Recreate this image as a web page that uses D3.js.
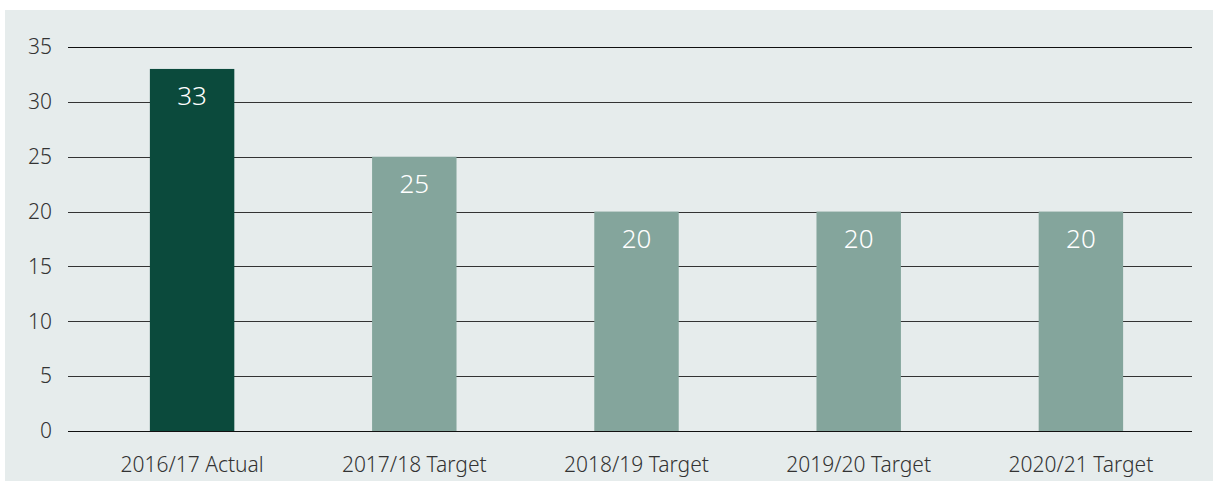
<!DOCTYPE html>
<html>
<head>
<meta charset="utf-8">
<script src="https://cdn.jsdelivr.net/npm/d3@7.9.0/dist/d3.min.js"></script>
<style>
  body { margin: 0; background: #fff; }
  svg { display: block; font-family: 'Noto Sans', sans-serif; }
</style>
</head>
<body>
<svg id="chart" width="1213" height="483"></svg>
<script>
// data
const categories = ['2016/17 Actual', '2017/18 Target', '2018/19 Target', '2019/20 Target', '2020/21 Target'];
const values = [33, 25, 20, 20, 20];
const yTicks = [0, 5, 10, 15, 20, 25, 30, 35];

const svg = d3.select('#chart');

svg.append('rect')
  .attr('x', 5).attr('y', 10)
  .attr('width', 1208).attr('height', 471)
  .attr('fill', '#e6ecec');

const x = d3.scaleBand().domain(categories).range([81, 1192]).paddingInner(0.62).paddingOuter(0.31);
const y = d3.scaleLinear().domain([0, 35]).range([431, 47]);

// gridlines
svg.append('g')
  .selectAll('line')
  .data(yTicks)
  .join('line')
  .attr('x1', 68).attr('x2', 1192)
  .attr('y1', (d) => Math.round(y(d)) + 0.5)
  .attr('y2', (d) => Math.round(y(d)) + 0.5)
  .attr('stroke', (d) => (d === 0 || d === 35 ? '#111' : '#333'))
  .attr('stroke-width', 1.2);

// y tick labels
svg.append('g')
  .selectAll('text')
  .data(yTicks)
  .join('text')
  .attr('x', 52)
  .attr('y', (d) => y(d))
  .attr('dy', '0.35em')
  .attr('text-anchor', 'end')
  .attr('font-size', 21)
  .attr('font-weight', 300)
  .attr('fill', '#333')
  .text((d) => d);

// bars
svg.append('g')
  .selectAll('rect')
  .data(values)
  .join('rect')
  .attr('x', (d, i) => x(categories[i]))
  .attr('y', (d) => y(d))
  .attr('width', x.bandwidth())
  .attr('height', (d) => y(0) - y(d))
  .attr('fill', (d, i) => (i === 0 ? '#0b4a3c' : '#84a59c'));

// value labels
svg.append('g')
  .selectAll('text')
  .data(values)
  .join('text')
  .attr('x', (d, i) => x(categories[i]) + x.bandwidth() / 2)
  .attr('y', (d) => y(d) + 36)
  .attr('text-anchor', 'middle')
  .attr('font-size', 26)
  .attr('font-weight', 300)
  .attr('fill', '#fff')
  .text((d) => d);

// category labels
svg.append('g')
  .selectAll('text')
  .data(categories)
  .join('text')
  .attr('x', (d) => x(d) + x.bandwidth() / 2)
  .attr('y', 472)
  .attr('text-anchor', 'middle')
  .attr('font-size', 21)
  .attr('font-weight', 300)
  .attr('fill', '#333')
  .text((d) => d);
</script>
</body>
</html>
